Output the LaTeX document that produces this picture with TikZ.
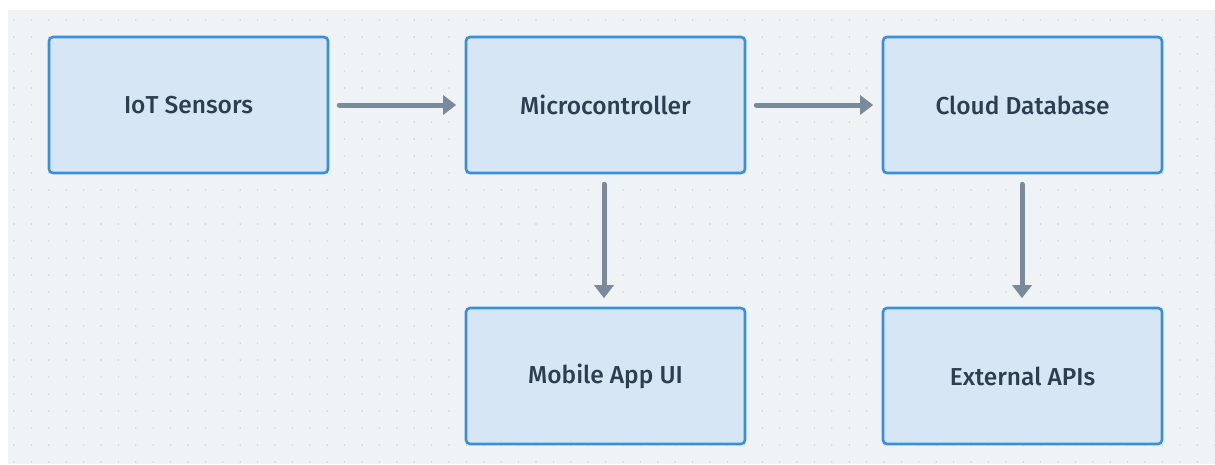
\documentclass[tikz,border=0pt]{standalone}
\usepackage{fontspec}
\setmainfont{Fira Sans}[UprightFont={* Medium}]
\usetikzlibrary{arrows.meta}
\definecolor{bgc}{HTML}{F0F3F6}
\definecolor{dotc}{HTML}{C8CFD7}
\definecolor{boxfill}{HTML}{D6E6F5}
\definecolor{boxdraw}{HTML}{3A8FDD}
\definecolor{txtc}{HTML}{2C3E50}
\definecolor{arrc}{HTML}{798A9B}
\tikzset{
  blockbox/.style={draw=boxdraw, fill=boxfill, line width=2.6pt, rounded corners=4pt,
    minimum width=279pt, minimum height=136pt, inner sep=0pt, text=txtc,
    font=\fontsize{24.5}{28}\selectfont},
  flow/.style={draw=arrc, line width=5pt, line cap=round,
    -{Triangle[length=13pt,width=19pt]}, shorten <=10pt, shorten >=8.5pt}
}
\begin{document}
\begin{tikzpicture}[x=1pt,y=-1pt]
\useasboundingbox (0,0) rectangle (1215,464);
\fill[white] (0,0) rectangle (1215,464);
\fill[bgc] (8,10) rectangle (1215,464);
\foreach \i in {0,...,69} {
  \foreach \j in {0,...,26} {
    \fill[dotc] ({14+17.4*\i},{20+17*\j}) circle (0.8pt);
  }
}
\node[blockbox] (iot) at (188.5,105) {IoT Sensors};
\node[blockbox] (mcu) at (605.5,105) {Microcontroller};
\node[blockbox] (cloud) at (1022.5,105) {Cloud Database};
\node[blockbox] (app) at (605.5,376) {Mobile App UI};
\node[blockbox] (api) at (1022.5,376) {External APIs};
\draw[flow] (iot) -- (mcu);
\draw[flow] (mcu) -- (cloud);
\draw[flow] (mcu.south -| 604,0) -- (app.north -| 604,0);
\draw[flow] (cloud.south -| 1022,0) -- (api.north -| 1022,0);
\end{tikzpicture}
\end{document}
